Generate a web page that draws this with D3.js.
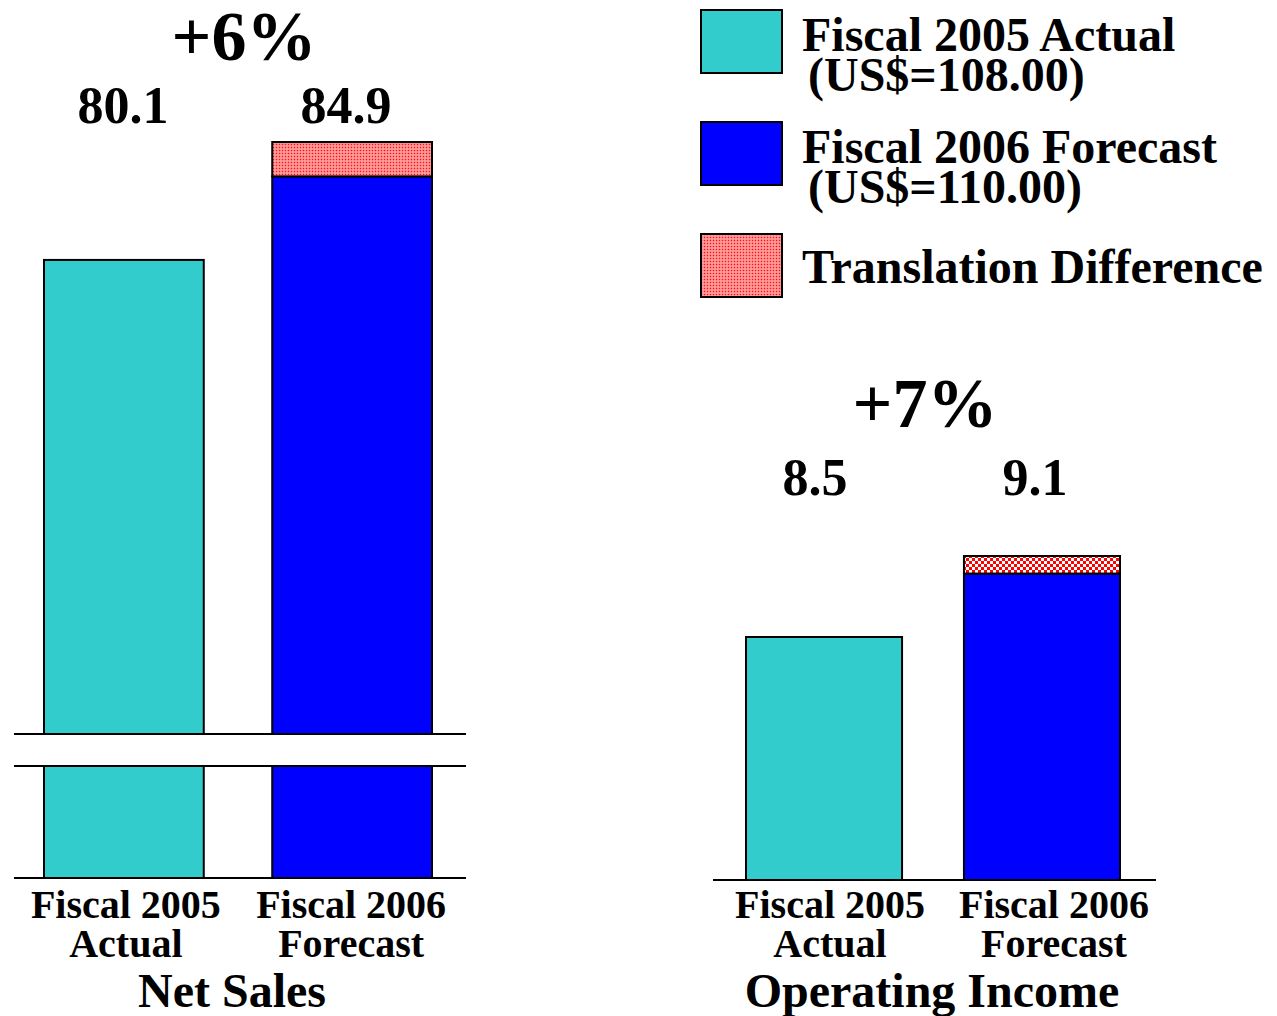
<!DOCTYPE html>
<html>
<head>
<meta charset="utf-8">
<script src="https://cdn.jsdelivr.net/npm/d3@7"></script>
<style>
  body { margin: 0; background: #fff; }
  svg text { font-family: "Liberation Serif", "Times New Roman", serif; font-weight: bold; fill: #000; }
</style>
</head>
<body>
<svg id="chart" width="1277" height="1016"></svg>
<script>
// Datos
const categories = ["Fiscal 2005 Actual", "Fiscal 2006 Forecast"];
const categoryLines = [["Fiscal 2005", "Actual"], ["Fiscal 2006", "Forecast"]];

const netSalesBase = [80.1, 83.5];
const netSalesTranslation = [0, 1.4];
const netSalesLabels = ["80.1", "84.9"];

const opIncomeBase = [8.5, 8.97];
const opIncomeTranslation = [0, 0.13];
const opIncomeLabels = ["8.5", "9.1"];

const growthLabels = ["+6%", "+7%"];
const panelTitles = ["Net Sales", "Operating Income"];

const legendLabels = [
    ["Fiscal 2005 Actual", "(US$=108.00)"],
    ["Fiscal 2006 Forecast", "(US$=110.00)"],
    ["Translation Difference"]
];

const colors = { actual: "#33cccc", forecast: "#0000ff" };

const svg = d3.select("#chart");

// Patrones para la diferencia de cambio
const defs = svg.append("defs");

const fine = defs.append("pattern")
    .attr("id", "trans-fine")
    .attr("patternUnits", "userSpaceOnUse")
    .attr("width", 3).attr("height", 3);
fine.append("rect").attr("width", 3).attr("height", 3).attr("fill", "#ff8080");
fine.append("rect").attr("x", 0).attr("y", 0).attr("width", 1).attr("height", 1).attr("fill", "#ff1010");
fine.append("rect").attr("x", 1.5).attr("y", 1.5).attr("width", 1).attr("height", 1).attr("fill", "#ffe8e8");

const checker = defs.append("pattern")
    .attr("id", "trans-check")
    .attr("patternUnits", "userSpaceOnUse")
    .attr("width", 6).attr("height", 6);
checker.append("rect").attr("width", 6).attr("height", 6).attr("fill", "#ffffff");
checker.append("rect").attr("width", 3).attr("height", 3).attr("fill", "#ff0000");
checker.append("rect").attr("x", 3).attr("y", 3).attr("width", 3).attr("height", 3).attr("fill", "#ff0000");

const barColor = i => i === 0 ? colors.actual : colors.forecast;

// ---------- Net Sales (eje cortado) ----------
const ns = {
    x: d3.scaleBand().domain(categories).range([44, 432]).paddingInner(0.3),
    yUpper: d3.scaleLinear().domain([60.8, 86]).range([734, 115]),
    yLower: d3.scaleLinear().domain([0, 4.5]).range([878, 766]),
    lineX: [14, 466]
};

const gNs = svg.append("g").attr("class", "net-sales");

// tramo inferior
gNs.selectAll(".bar-lower")
    .data(categories)
    .enter()
    .append("rect")
    .attr("class", "bar-lower")
    .attr("x", d => ns.x(d))
    .attr("width", ns.x.bandwidth())
    .attr("y", ns.yLower(4.5))
    .attr("height", ns.yLower(0) - ns.yLower(4.5))
    .attr("fill", (d, i) => barColor(i))
    .attr("stroke", "#000").attr("stroke-width", 2);

// tramo superior
gNs.selectAll(".bar-upper")
    .data(categories)
    .enter()
    .append("rect")
    .attr("class", "bar-upper")
    .attr("x", d => ns.x(d))
    .attr("width", ns.x.bandwidth())
    .attr("y", (d, i) => ns.yUpper(netSalesBase[i]))
    .attr("height", (d, i) => ns.yUpper(60.8) - ns.yUpper(netSalesBase[i]))
    .attr("fill", (d, i) => barColor(i))
    .attr("stroke", "#000").attr("stroke-width", 2);

gNs.selectAll(".bar-trans")
    .data(categories.filter((d, i) => netSalesTranslation[i] > 0))
    .enter()
    .append("rect")
    .attr("class", "bar-trans")
    .attr("x", d => ns.x(d))
    .attr("width", ns.x.bandwidth())
    .attr("y", d => {
        const i = categories.indexOf(d);
        return ns.yUpper(netSalesBase[i] + netSalesTranslation[i]);
    })
    .attr("height", d => {
        const i = categories.indexOf(d);
        return ns.yUpper(netSalesBase[i]) - ns.yUpper(netSalesBase[i] + netSalesTranslation[i]);
    })
    .attr("fill", "url(#trans-fine)")
    .attr("stroke", "#000").attr("stroke-width", 2);

// lineas del corte y linea base
[ns.yUpper(60.8), ns.yLower(4.5), ns.yLower(0)].forEach(y => {
    gNs.append("line")
        .attr("x1", ns.lineX[0]).attr("x2", ns.lineX[1])
        .attr("y1", y).attr("y2", y)
        .attr("stroke", "#000").attr("stroke-width", 2);
});

// ---------- Operating Income ----------
const oi = {
    x: d3.scaleBand().domain(categories).range([746, 1120]).paddingInner(0.284),
    y: d3.scaleLinear().domain([6.7, 9.5]).range([880, 502]),
    lineX: [713, 1156]
};

const gOi = svg.append("g").attr("class", "operating-income");

gOi.selectAll(".bar")
    .data(categories)
    .enter()
    .append("rect")
    .attr("class", "bar")
    .attr("x", d => oi.x(d))
    .attr("width", oi.x.bandwidth())
    .attr("y", (d, i) => oi.y(opIncomeBase[i]))
    .attr("height", (d, i) => oi.y(6.7) - oi.y(opIncomeBase[i]))
    .attr("fill", (d, i) => barColor(i))
    .attr("stroke", "#000").attr("stroke-width", 2);

gOi.selectAll(".bar-trans")
    .data(categories.filter((d, i) => opIncomeTranslation[i] > 0))
    .enter()
    .append("rect")
    .attr("class", "bar-trans")
    .attr("x", d => oi.x(d))
    .attr("width", oi.x.bandwidth())
    .attr("y", d => {
        const i = categories.indexOf(d);
        return oi.y(opIncomeBase[i] + opIncomeTranslation[i]);
    })
    .attr("height", d => {
        const i = categories.indexOf(d);
        return oi.y(opIncomeBase[i]) - oi.y(opIncomeBase[i] + opIncomeTranslation[i]);
    })
    .attr("fill", "url(#trans-check)")
    .attr("stroke", "#000").attr("stroke-width", 2);

gOi.append("line")
    .attr("x1", oi.lineX[0]).attr("x2", oi.lineX[1])
    .attr("y1", oi.y(6.7)).attr("y2", oi.y(6.7))
    .attr("stroke", "#000").attr("stroke-width", 2);

// ---------- Textos ----------
const drawTexts = (g, x, opts) => {
    const center = (x.range()[0] + x.range()[1]) / 2;

    g.append("text")
        .attr("x", center + opts.growthDx).attr("y", opts.growthY)
        .attr("text-anchor", "middle")
        .style("font-size", "70px")
        .text(opts.growth);

    g.selectAll(".value-label")
        .data(opts.labels)
        .enter()
        .append("text")
        .attr("class", "value-label")
        .attr("x", (d, i) => x(categories[i]) + x.bandwidth() / 2 + opts.valueDx[i])
        .attr("y", opts.valueY)
        .attr("text-anchor", "middle")
        .style("font-size", "52px")
        .text(d => d);

    categoryLines.forEach((lines, i) => {
        lines.forEach((line, j) => {
            g.append("text")
                .attr("x", x(categories[i]) + x.bandwidth() / 2 + opts.catDx[i])
                .attr("y", 918 + j * 39)
                .attr("text-anchor", "middle")
                .style("font-size", "40px")
                .text(line);
        });
    });

    g.append("text")
        .attr("x", center + opts.titleDx).attr("y", 1007)
        .attr("text-anchor", "middle")
        .style("font-size", "48px")
        .text(opts.title);
};

drawTexts(gNs, ns.x, {
    labels: netSalesLabels, valueDx: [-1, -6], valueY: 123,
    growth: growthLabels[0], growthDx: 6, growthY: 60,
    catDx: [2, -1], title: panelTitles[0], titleDx: -6
});
drawTexts(gOi, oi.x, {
    labels: opIncomeLabels, valueDx: [-9, -7], valueY: 495,
    growth: growthLabels[1], growthDx: -8, growthY: 427,
    catDx: [6, 12], title: panelTitles[1], titleDx: -1
});

// ---------- Leyenda ----------
const legendFills = [colors.actual, colors.forecast, "url(#trans-fine)"];
const legend = svg.append("g").attr("class", "legend").attr("transform", "translate(701,10)");

const item = legend.selectAll(".legend-item")
    .data(legendLabels)
    .enter()
    .append("g")
    .attr("class", "legend-item")
    .attr("transform", (d, i) => "translate(0," + i * 112 + ")");

item.append("rect")
    .attr("width", 81).attr("height", 63)
    .attr("fill", (d, i) => legendFills[i])
    .attr("stroke", "#000").attr("stroke-width", 2);

item.each(function (lines) {
    const g = d3.select(this);
    if (lines.length === 1) {
        g.append("text")
            .attr("x", 101).attr("y", 49)
            .style("font-size", "48px")
            .text(lines[0]);
    } else {
        g.append("text")
            .attr("x", 101).attr("y", 41)
            .style("font-size", "48px")
            .text(lines[0]);
        g.append("text")
            .attr("x", 107).attr("y", 81)
            .style("font-size", "48px")
            .text(lines[1]);
    }
});
</script>
</body>
</html>
